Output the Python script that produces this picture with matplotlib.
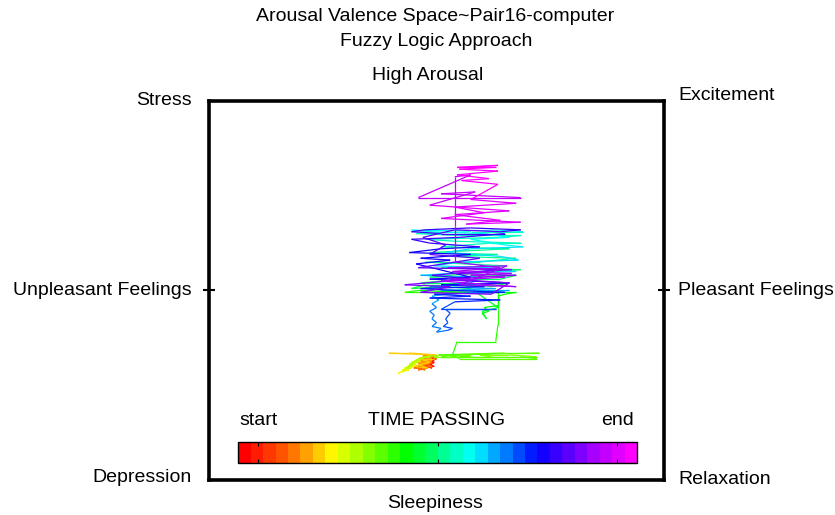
import numpy as np
import matplotlib
matplotlib.use("Agg")
import matplotlib.pyplot as plt
from matplotlib.colors import LinearSegmentedColormap, ListedColormap, Normalize
from matplotlib.collections import LineCollection
from matplotlib.cm import ScalarMappable

plt.rcParams['font.family'] = ['Liberation Sans', 'DejaVu Sans']

# trajectory in valence (x) / arousal (y) space, in time order, split by phase
red_x = [-0.04,-0.07,-0.02,-0.05,-0.01,-0.05,-0.01,-0.06,-0.02,-0.07,-0.03,-0.05,-0.01,-0.05,0.00,-0.06,-0.02,-0.07,-0.03,-0.01,-0.05,-0.02,-0.06,-0.02,-0.05,-0.08,-0.04,-0.01,-0.05,-0.02]
red_y = [-0.35,-0.36,-0.36,-0.38,-0.37,-0.39,-0.38,-0.40,-0.39,-0.41,-0.40,-0.41,-0.40,-0.38,-0.36,-0.35,-0.34,-0.37,-0.37,-0.35,-0.36,-0.38,-0.39,-0.41,-0.40,-0.38,-0.36,-0.34,-0.35,-0.37]
orange_x = [-0.07,-0.03,-0.09,-0.04,-0.08,-0.05,-0.10,-0.03,-0.08,-0.02,-0.09,-0.05,-0.07,-0.02,-0.08,-0.04,-0.01,-0.06,-0.03,-0.08,-0.05,-0.02,-0.07,-0.04,-0.09,-0.05,
            -0.06,-0.02,-0.08,-0.04,-0.10,-0.03,-0.07,-0.01,0.00,-0.12,-0.21,-0.02]
orange_y = [-0.38,-0.39,-0.40,-0.41,-0.42,-0.40,-0.41,-0.39,-0.38,-0.40,-0.41,-0.42,-0.40,-0.38,-0.37,-0.36,-0.35,-0.34,-0.35,-0.36,-0.37,-0.36,-0.39,-0.38,-0.38,-0.37,
            -0.35,-0.37,-0.39,-0.41,-0.40,-0.38,-0.36,-0.36,-0.34,-0.33,-0.33,-0.34]
yellow_x = [-0.08,-0.11,-0.09,-0.13,-0.10,-0.14,-0.12,-0.16,-0.17,-0.14,-0.15,-0.11,-0.14,-0.09,-0.12,-0.07,-0.10,
            -0.11,-0.15,-0.10,-0.13,-0.09,-0.12,-0.07,-0.09,-0.05,-0.08,-0.03,-0.05,0.02,-0.01,0.08,0.04,0.15,0.10,0.24,0.19]
yellow_y = [-0.36,-0.38,-0.39,-0.40,-0.40,-0.41,-0.42,-0.43,-0.44,-0.42,-0.43,-0.40,-0.41,-0.38,-0.40,-0.37,-0.38,
            -0.41,-0.42,-0.39,-0.41,-0.37,-0.39,-0.36,-0.37,-0.35,-0.36,-0.35,-0.35,-0.34,-0.35,-0.35,-0.34,-0.34,-0.35,-0.35,-0.34]
green_x = [0.32,0.44,0.15,0.01,0.30,0.45,0.08,0.02,0.37,0.44,0.10,0.07,0.09,0.15,0.26,0.27,0.27,0.27,0.19,0.02,-0.14,-0.08,0.15,0.35,0.30,0.27,0.27,0.21,0.23,0.20,0.22,0.20,0.24,0.27,0.15,0.04,-0.11,-0.05,0.19,0.32,0.24,0.10,-0.07,0.15,0.28]
green_y = [-0.34,-0.35,-0.35,-0.34,-0.33,-0.33,-0.34,-0.35,-0.35,-0.36,-0.36,-0.34,-0.27,-0.27,-0.27,-0.18,-0.10,-0.01,-0.01,-0.01,-0.01,0.00,-0.01,-0.01,-0.02,-0.03,-0.08,-0.09,-0.11,-0.12,-0.15,-0.11,-0.10,-0.09,0.01,0.02,0.01,0.03,0.03,0.04,0.02,0.04,0.04,0.06,0.06]
cyan_x = [0.35,-0.03,0.15,0.37,0.02,0.30,-0.05,0.19,0.35,0.06,0.27,-0.03,0.15,0.32,0.02,0.24,0.37,0.08,-0.05,0.28,0.37,0.10,-0.09,0.15,0.38,0.24,0.02,-0.11,-0.03,0.21,0.32,0.15,0.30,0.38,0.15,0.04,0.28,0.36,0.10,-0.01,0.24,0.35,0.06,-0.07,0.19]
cyan_y = [0.08,0.07,0.09,0.11,0.12,0.13,0.15,0.15,0.17,0.18,0.19,0.20,0.21,0.22,0.23,0.25,0.25,0.26,0.27,0.28,0.29,0.29,0.30,0.31,0.31,0.32,0.32,0.32,0.31,0.30,0.28,0.27,0.24,0.23,0.22,0.20,0.18,0.16,0.15,0.13,0.12,0.10,0.09,0.08,0.07]
blue_x = [0.15,-0.03,0.26,0.02,0.32,0.04,-0.02,0.01,-0.02,0.00,-0.03,-0.01,-0.02,0.00,-0.02,0.02,0.00,0.05,0.07,0.03,0.05,0.04,0.06,0.04,0.26,0.02,0.05,0.08,0.28,-0.03,0.15,-0.01,0.30,0.08,-0.07,0.21,0.02,0.32,-0.03,0.15]
blue_y = [0.04,0.02,0.01,0.00,0.00,-0.02,-0.03,-0.05,-0.07,-0.09,-0.11,-0.13,-0.15,-0.17,-0.19,-0.20,-0.22,-0.21,-0.20,-0.19,-0.17,-0.15,-0.12,-0.10,-0.10,-0.10,-0.08,-0.06,-0.05,-0.04,-0.03,-0.02,-0.01,0.00,0.01,0.02,0.03,0.04,0.06,0.07]
purple_x = [-0.09,0.06,-0.07,0.15,-0.12,0.02,0.19,-0.03,-0.11,0.10,0.30,0.02,-0.11,-0.05,0.15,0.37,0.28,0.08,-0.06,0.04,-0.03,0.19,-0.08,0.28,-0.02,0.15,-0.14,0.06,-0.07,0.24]
purple_y = [0.14,0.16,0.17,0.19,0.20,0.22,0.23,0.25,0.27,0.28,0.30,0.30,0.31,0.32,0.33,0.32,0.31,0.32,0.28,0.24,0.19,0.17,0.12,0.11,0.08,0.06,0.03,0.02,-0.01,-0.02]
magenta_x = [0.32,0.06,0.35,0.08,0.33,0.05,0.31,0.10,0.35,0.02,0.30,0.15,0.33,0.07,0.28,0.08,0.08,0.08,0.08,0.15,-0.08,0.37,0.02,0.17,-0.03,0.32,0.08,0.28,0.13,0.37,0.02,0.21,0.08,0.35,0.15,0.27,0.11,0.23,0.09,0.27,0.10,0.26,0.09,0.27,0.15]
magenta_y = [0.04,0.06,0.08,0.09,0.11,0.12,0.13,0.03,0.02,0.05,0.07,0.08,0.09,0.10,0.12,0.15,0.34,0.48,0.60,0.61,0.49,0.49,0.51,0.52,0.45,0.42,0.40,0.37,0.35,0.36,0.38,0.41,0.44,0.46,0.48,0.56,0.58,0.59,0.61,0.63,0.64,0.65,0.65,0.66,0.65]

valence = np.array(red_x + orange_x + yellow_x + green_x + cyan_x + blue_x + purple_x + magenta_x)
arousal = np.array(red_y + orange_y + yellow_y + green_y + cyan_y + blue_y + purple_y + magenta_y)

# time colour scale: red -> magenta, 32 bands
stops = [0.0, 0.12, 0.23, 0.42, 0.59, 0.76, 0.9, 1.0]
hues = ['#ff0000', '#ff6a00', '#ffff00', '#00ff00', '#00ffff', '#0000ff', '#a000ff', '#ff00ff']
smooth = LinearSegmentedColormap.from_list('time', list(zip(stops, hues)))
cmap = ListedColormap(smooth(np.linspace(0, 1, 32)))

n = len(valence)
pts = np.column_stack([valence, arousal]).reshape(-1, 1, 2)
segs = np.concatenate([pts[:-1], pts[1:]], axis=1)

fig = plt.figure(figsize=(8.35, 5.15), dpi=100)
ax = fig.add_axes([0.2503, 0.068, 0.545, 0.736])

lc = LineCollection(segs, cmap=cmap, norm=Normalize(0, n - 2), linewidths=0.9)
lc.set_array(np.arange(n - 1))
ax.add_collection(lc)

ax.set_xlim(-1, 1)
ax.set_ylim(-1, 1)
ax.set_xticks([])
ax.set_yticks([0])
ax.set_yticklabels([])
ax.tick_params(axis='y', left=True, right=True, direction='inout', length=9, width=1.5)
for s in ax.spines.values():
    s.set_linewidth(2.6)

# colour bar for time
cax = ax.inset_axes([0.064, 0.045, 0.877, 0.055])
cb = fig.colorbar(ScalarMappable(norm=Normalize(0, 1), cmap=cmap), cax=cax, orientation='horizontal')
cb.set_ticks([0.05, 0.5, 0.95])
cb.set_ticklabels([])
cax.tick_params(axis='x', direction='in', top=True, bottom=True, length=3, width=0.8)
cb.outline.set_linewidth(1)
ax.text(0.108, 0.158, 'start', transform=ax.transAxes, ha='center', va='center', fontsize=14)
ax.text(0.501, 0.158, 'TIME PASSING', transform=ax.transAxes, ha='center', va='center', fontsize=14)
ax.text(0.897, 0.158, 'end', transform=ax.transAxes, ha='center', va='center', fontsize=14)

fs = 14
fig.text(0.5216, 0.967, 'Arousal Valence Space~Pair16-computer', ha='center', va='center', fontsize=fs)
fig.text(0.522, 0.920, 'Fuzzy Logic Approach', ha='center', va='center', fontsize=fs)
fig.text(0.5126, 0.854, 'High Arousal', ha='center', va='center', fontsize=fs)
fig.text(0.521, 0.023, 'Sleepiness', ha='center', va='center', fontsize=fs)
fig.text(0.23, 0.804, 'Stress', ha='right', va='center', fontsize=fs)
fig.text(0.23, 0.435, 'Unpleasant Feelings', ha='right', va='center', fontsize=fs)
fig.text(0.23, 0.072, 'Depression', ha='right', va='center', fontsize=fs)
fig.text(0.812, 0.814, 'Excitement', ha='left', va='center', fontsize=fs)
fig.text(0.812, 0.435, 'Pleasant Feelings', ha='left', va='center', fontsize=fs)
fig.text(0.812, 0.068, 'Relaxation', ha='left', va='center', fontsize=fs)

fig.savefig('out.png', dpi=100)
